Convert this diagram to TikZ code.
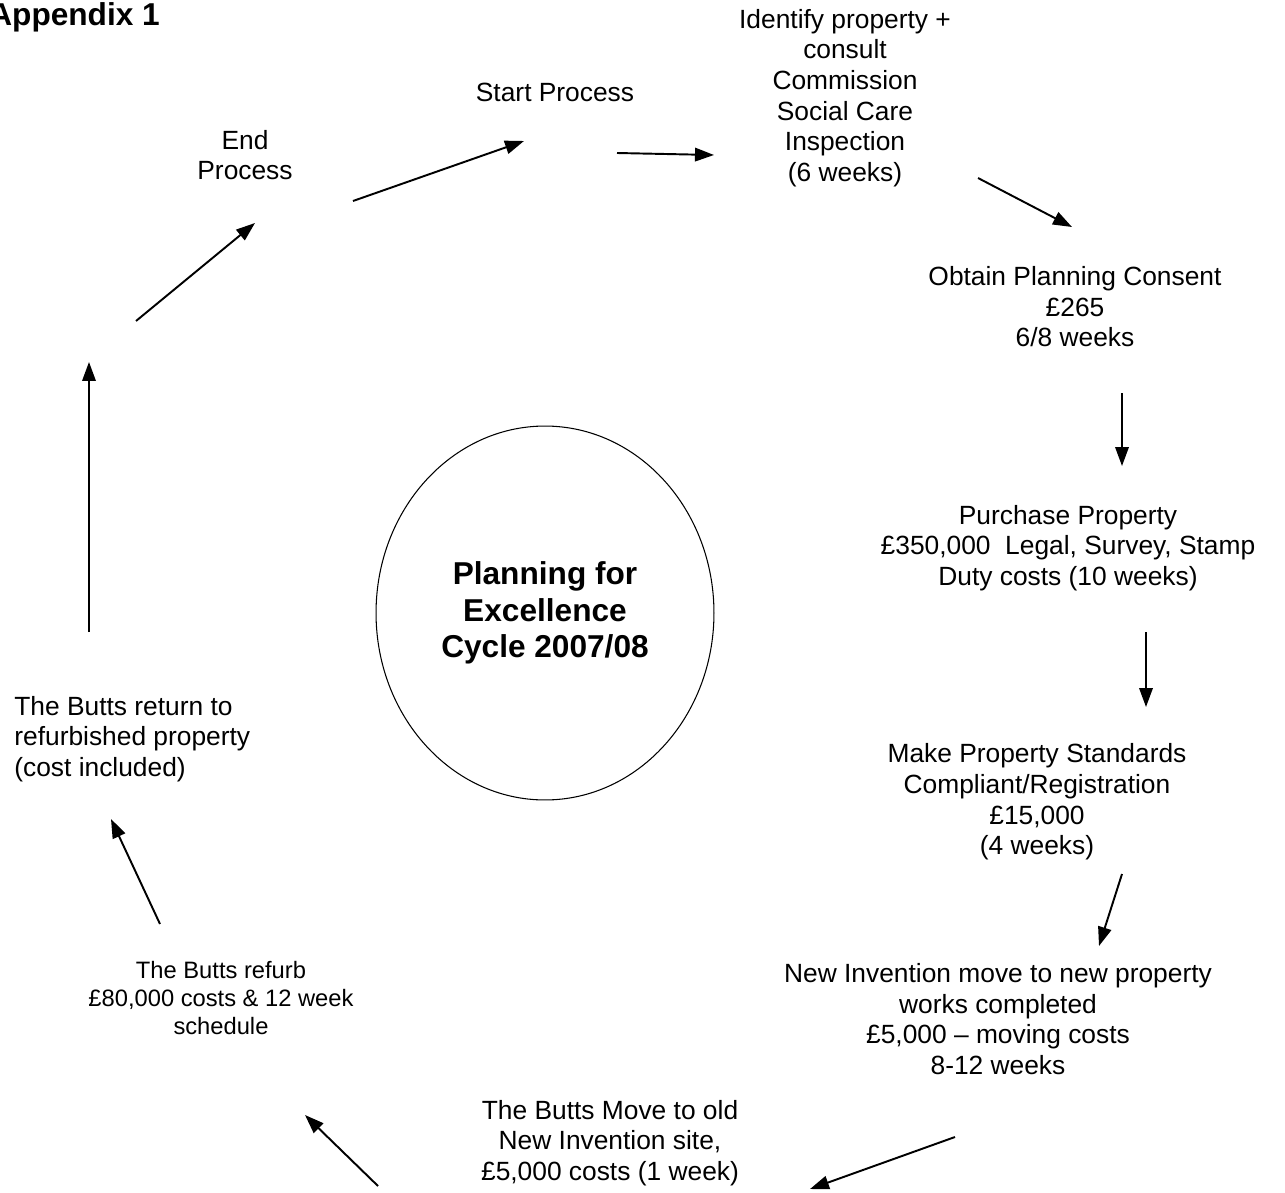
\documentclass[tikz,border=0pt]{standalone}
\usepackage{fontspec}
\setmainfont{Liberation Sans}
\usepackage{tikz}
\usetikzlibrary{arrows.meta,positioning}
\usetikzlibrary{shapes.geometric}

\begin{document}
\begin{tikzpicture}
	[x=0.02cm,y=-0.02cm,
	 stage/.style={align=center,inner sep=0pt,font=\fontsize{15}{17.4}\selectfont},
	 smallstage/.style={align=center,inner sep=0pt,font=\fontsize{13.5}{15.9}\selectfont},
	 link/.style={line width=1.1pt,-{Triangle[length=0.38cm,width=0.27cm]}}]
	\useasboundingbox (0,0) rectangle (1285,1193);
	\node[anchor=base west,inner sep=0pt,font=\fontsize{18}{21}\selectfont\bfseries] (title) at (-11,26) {Appendix 1};
	
	\node[ellipse,draw,line width=0.6pt,minimum width=6.76cm,minimum height=7.48cm,
	      align=center,font=\fontsize{18}{20.8}\selectfont\bfseries] (cycle) at (545,613)
	      {Planning for\\Excellence\\Cycle 2007/08};
	
	\node[stage] (start) at (555,92)  {Start Process};
	\node[stage] (ident) at (845,98)  {Identify property +\\consult\\Commission\\Social Care\\Inspection\\(6 weeks)};
	\node[stage] (plan)  at (1075,307) {Obtain Planning Consent\\£265\\6/8 weeks};
	\node[stage] (buy)   at (1068,548) {Purchase Property\\£350,000\ \ Legal, Survey, Stamp\\Duty costs (10 weeks)};
	\node[stage] (comply) at (1037,802) {Make Property Standards\\Compliant/Registration\\£15,000\\(4 weeks)};
	\node[stage] (newinv) at (998,1019) {New Invention move to new property\\works completed\\£5,000 -- moving costs\\8-12 weeks};
	\node[stage] (buttsmove) at (610,1143) {The Butts Move to old\\New Invention site,\\£5,000 costs (1 week)};
	\node[smallstage] (refurb) at (221,998) {The Butts refurb\\£80,000 costs \& 12 week\\schedule};
	\node[stage,align=left,anchor=west] (return) at (14,739) {The Butts return to\\refurbished property\\(cost included)};
	\node[stage] (endp) at (245,155) {End\\Process};
	
	% arrow ends
	\coordinate (a1) at (617,153);  \coordinate (b1) at (714,155);
	\coordinate (a2) at (978,178);  \coordinate (b2) at (1072,227);
	\coordinate (a3) at (1122,393); \coordinate (b3) at (1122,466);
	\coordinate (a4) at (1146,632); \coordinate (b4) at (1146,707);
	\coordinate (a5) at (1122,874); \coordinate (b5) at (1099,946);
	\coordinate (a6) at (955,1137); \coordinate (b6) at (810,1189);
	\coordinate (a7) at (378,1186); \coordinate (b7) at (305,1115);
	\coordinate (a8) at (160,924);  \coordinate (b8) at (111,819);
	\coordinate (a9) at (89,632);   \coordinate (b9) at (89,362);
	\coordinate (a10) at (136,321); \coordinate (b10) at (255,223);
	\coordinate (a11) at (353,201); \coordinate (b11) at (524,141);
	
	\foreach \i in {1,...,11}
	\draw[link] (a\i) -- (b\i);
	
\end{tikzpicture}
\end{document}
